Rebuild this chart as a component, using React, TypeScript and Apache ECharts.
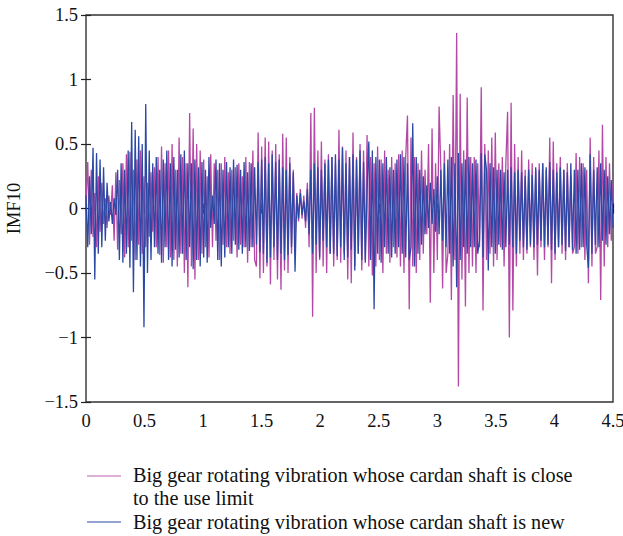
import React, { useEffect, useRef } from "react";
import * as echarts from "echarts";

// sample spacing along the time axis
const X_STEP = 0.015;

// "close to the use limit" (magenta) IMF10 samples
const closeToLimit: number[] = [
  0.05, 0.36, -0.28, 0.30, -0.22, 0.12, -0.30, 0.25, -0.18, 0.20, -0.12, 0.08, -0.15, 0.10, -0.05, 0.18, -0.25, 0.28, -0.32, 0.22,
  -0.20, 0.35, -0.38, 0.42, -0.30, 0.44, -0.25, 0.30, -0.40, 0.38, -0.28, 0.45, -0.35, 0.25, -0.30, 0.20, -0.22, 0.28, -0.18, 0.32,
  -0.30, 0.40, -0.36, 0.48, -0.42, 0.35, -0.30, 0.45, -0.38, 0.50, -0.40, 0.30, -0.45, 0.55, -0.35, 0.40, -0.50, 0.35, -0.61, 0.74,
  -0.45, 0.62, -0.55, 0.50, -0.40, 0.45, -0.35, 0.38, -0.30, 0.25, -0.38, 0.42, -0.30, 0.35, -0.25, 0.30, -0.40, 0.35, -0.28, 0.40,
  -0.30, 0.28, -0.35, 0.30, -0.25, 0.32, -0.38, 0.35, -0.28, 0.25, -0.30, 0.40, -0.42, 0.36, -0.30, 0.45, -0.40, -0.45, 0.59, -0.54,
  0.48, -0.50, 0.55, -0.45, 0.52, -0.59, 0.45, -0.40, 0.50, -0.55, 0.42, -0.63, 0.58, -0.48, 0.55, -0.50, 0.40, -0.35, 0.30, -0.25,
  0.12, -0.10, 0.15, -0.08, 0.10, -0.15, 0.20, -0.30, 0.74, -0.84, 0.78, -0.50, 0.45, -0.40, 0.52, -0.45, 0.38, -0.50, 0.42, -0.35,
  0.40, -0.45, 0.35, -0.40, 0.61, -0.42, 0.48, -0.35, 0.45, -0.55, 0.40, -0.58, 0.59, -0.45, 0.40, -0.35, 0.50, -0.48, 0.45, -0.40,
  0.57, -0.45, 0.40, -0.52, 0.35, -0.45, 0.48, -0.40, 0.38, -0.50, 0.45, -0.35, 0.30, -0.42, 0.40, -0.30, 0.35, -0.38, 0.42, -0.45,
  0.45, -0.50, 0.40, 0.72, -0.78, 0.55, -0.45, 0.40, -0.50, 0.35, -0.40, 0.45, -0.35, 0.30, -0.20, 0.50, -0.73, 0.62, -0.50, 0.35,
  -0.40, 0.79, 0.30, -0.62, 0.45, -0.50, -0.35, 0.50, -0.71, 0.88, -0.40, 1.36, -1.38, 0.89, -0.55, 0.45, -0.76, 0.86, -0.50, 0.40,
  -0.45, 0.40, -0.50, 0.35, -0.30, 0.94, -0.79, 0.50, -0.40, 0.45, -0.35, 0.55, -0.45, 0.59, -0.40, 0.35, -0.30, 0.40, -0.45, 0.35,
  0.75, -1.00, 0.82, -0.79, 0.50, -0.45, 0.40, -0.35, 0.45, -0.40, 0.30, -0.35, 0.38, -0.30, 0.35, -0.40, 0.30, -0.52, 0.35, -0.30,
  0.35, -0.40, 0.30, -0.30, 0.55, -0.58, 0.52, -0.40, 0.35, -0.30, 0.40, -0.35, 0.30, -0.40, 0.35, -0.30, 0.25, -0.35, -0.30, 0.43,
  -0.35, 0.40, -0.30, 0.35, -0.40, 0.30, -0.58, 0.55, -0.45, 0.40, -0.35, -0.30, 0.45, -0.71, 0.65, -0.45, 0.40, -0.30, 0.35, -0.25, 0.20,
];

// "new" (blue) IMF10 samples
const newShaft: number[] = [
  0.10, -0.30, 0.25, -0.20, 0.47, -0.55, 0.43, -0.35, 0.38, -0.30, 0.32, -0.25, 0.20, -0.10, 0.05, -0.12, 0.08, -0.05, 0.30, -0.40,
  0.35, -0.42, 0.30, -0.35, 0.45, -0.46, 0.67, -0.65, 0.61, -0.40, 0.56, -0.45, 0.50, -0.92, 0.81, -0.50, 0.45, -0.40, 0.35, -0.30,
  0.40, -0.35, 0.30, -0.42, 0.38, -0.30, 0.45, -0.40, 0.35, -0.45, 0.40, -0.32, 0.30, -0.38, 0.42, -0.35, 0.45, -0.40, 0.35, -0.30,
  0.35, -0.47, 0.38, -0.40, 0.32, -0.45, 0.36, -0.38, 0.30, -0.42, 0.40, -0.15, 0.10, -0.12, 0.38, -0.40, 0.35, -0.45, 0.30, -0.38,
  0.36, -0.30, 0.32, -0.35, 0.38, -0.28, 0.34, -0.32, 0.30, -0.35, 0.36, -0.30, 0.28, -0.33, 0.35, -0.30, 0.32, -0.28, 0.36, -0.34,
  0.38, -0.35, 0.40, -0.42, 0.35, -0.38, 0.42, -0.30, 0.36, -0.40, 0.38, -0.35, 0.32, -0.40, 0.30, -0.36, 0.35, -0.30, 0.28, -0.49,
  0.10, -0.08, 0.12, -0.05, 0.06, -0.10, 0.15, -0.20, 0.30, -0.35, 0.35, -0.28, 0.32, -0.38, 0.30, -0.25, 0.35, -0.30, 0.38, -0.35,
  0.40, -0.35, 0.42, -0.37, 0.38, -0.30, 0.47, -0.40, 0.35, -0.38, 0.40, -0.32, 0.42, -0.48, 0.38, -0.35, 0.45, -0.40, 0.36, -0.42,
  0.15, 0.52, -0.40, 0.45, -0.78, 0.40, -0.35, 0.38, -0.42, 0.35, -0.30, 0.40, -0.35, 0.32, -0.38, 0.30, -0.35, 0.38, -0.30, 0.42,
  -0.35, 0.40, -0.38, 0.35, -0.40, -0.30, 0.66, -0.45, 0.40, -0.35, 0.30, -0.28, 0.25, -0.20, 0.18, -0.15, 0.20, -0.12, 0.15, -0.18,
  0.25, -0.20, 0.30, -0.25, 0.35, -0.30, 0.38, -0.35, 0.40, -0.45, 0.35, -0.61, 0.43, -0.40, 0.35, -0.30, 0.38, -0.35, 0.40, -0.30,
  0.35, -0.30, 0.38, -0.35, -0.25, 0.43, -0.38, 0.42, 0.30, -0.48, 0.35, -0.30, 0.32, -0.35, 0.30, -0.28, 0.30, -0.32, 0.28, -0.30,
  0.30, -0.28, 0.32, -0.30, 0.28, -0.35, 0.30, -0.25, 0.28, -0.30, 0.25, -0.32, 0.30, -0.28, 0.26, -0.30, 0.32, -0.28, 0.30, -0.25,
  0.35, -0.30, 0.32, -0.28, 0.36, -0.32, 0.30, -0.35, 0.28, -0.30, 0.32, -0.28, 0.30, -0.33, 0.28, -0.30, 0.35, -0.32, 0.30, -0.35,
  0.30, -0.32, 0.35, -0.30, 0.32, -0.28, -0.46, 0.42, -0.35, 0.30, -0.28, 0.32, -0.30, 0.35, -0.25, 0.30, -0.28, 0.25, -0.20, 0.22, -0.15,
];

const seriesNames = [
  "Big gear rotating vibration whose cardan shaft is close\nto the use limit",
  "Big gear rotating vibration whose cardan shaft is new",
];
const yAxisName = "IMF10";

const MAGENTA = "#b348a6";
const BLUE = "#2b48a4";
const FONT = '"Liberation Serif", "DejaVu Serif", serif';

const fmt = (v: number) => (v < 0 ? "\u2212" + String(Math.abs(v)) : String(v));

export default function App() {
  const ref = useRef<HTMLDivElement>(null);
  useEffect(() => {
    document.body.style.margin = "0";
    if (!ref.current) return;
    const chart = echarts.init(ref.current, undefined, { renderer: "svg" });
    const toPairs = (arr: number[]) => arr.map((v, i) => [Number((i * X_STEP).toFixed(4)), v]);
    const axisLabel = { color: "#111", fontFamily: FONT, fontSize: 18.5 };
    const tick = { show: true, inside: true, length: 5, lineStyle: { color: "#222", width: 1.2 } };
    chart.setOption({
      animation: false,
      backgroundColor: "#fff",
      grid: {
        left: 86,
        right: 10,
        top: 15,
        bottom: 134,
        show: true,
        borderColor: "#333",
        borderWidth: 1.4,
        containLabel: false,
        outerBoundsMode: "none",
      },
      xAxis: [
        {
          type: "value",
          min: 0,
          max: 4.5,
          interval: 0.5,
          axisLine: { show: false },
          axisTick: tick,
          splitLine: { show: false },
          axisLabel: { ...axisLabel, margin: 9, formatter: fmt },
        },
        {
          type: "value",
          position: "top",
          min: 0,
          max: 4.5,
          interval: 0.5,
          axisLine: { show: false },
          axisTick: tick,
          splitLine: { show: false },
          axisLabel: { show: false },
        },
      ],
      yAxis: [
        {
          type: "value",
          min: -1.5,
          max: 1.5,
          interval: 0.5,
          name: yAxisName,
          nameLocation: "middle",
          nameGap: 63,
          nameTextStyle: { color: "#111", fontFamily: FONT, fontSize: 18.5 },
          axisLine: { show: false },
          axisTick: tick,
          splitLine: { show: false },
          axisLabel: { ...axisLabel, margin: 8, formatter: fmt },
        },
        {
          type: "value",
          position: "right",
          min: -1.5,
          max: 1.5,
          interval: 0.5,
          axisLine: { show: false },
          axisTick: tick,
          splitLine: { show: false },
          axisLabel: { show: false },
        },
      ],
      series: [
        {
          name: seriesNames[0],
          type: "line",
          xAxisIndex: 0,
          yAxisIndex: 0,
          data: toPairs(closeToLimit),
          showSymbol: false,
          lineStyle: { color: MAGENTA, width: 1.3 },
          itemStyle: { color: MAGENTA },
          z: 2,
        },
        {
          name: seriesNames[1],
          type: "line",
          xAxisIndex: 0,
          yAxisIndex: 0,
          data: toPairs(newShaft),
          showSymbol: false,
          lineStyle: { color: BLUE, width: 1.3 },
          itemStyle: { color: BLUE },
          z: 3,
        },
      ],
      graphic: [
        { type: "line", shape: { x1: 87, y1: 476, x2: 121, y2: 476 }, style: { stroke: "#c060b2", lineWidth: 1.2 } },
        {
          type: "text",
          x: 133,
          y: 463,
          style: { text: seriesNames[0], font: `20.2px ${FONT}`, fill: "#111", lineHeight: 23.5, verticalAlign: "top" },
        },
        { type: "line", shape: { x1: 87, y1: 522, x2: 121, y2: 522 }, style: { stroke: BLUE, lineWidth: 1.2 } },
        {
          type: "text",
          x: 133,
          y: 510,
          style: { text: seriesNames[1], font: `20.2px ${FONT}`, fill: "#111", lineHeight: 23.5, verticalAlign: "top" },
        },
      ],
    });
    return () => chart.dispose();
  }, []);
  return <div ref={ref} style={{ width: 623, height: 536 }} />;
}
